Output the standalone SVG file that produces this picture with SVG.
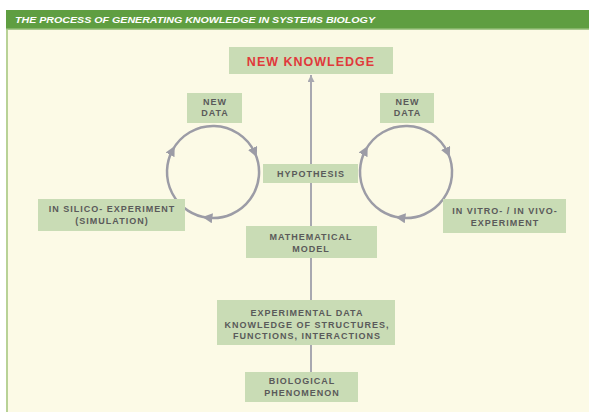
<svg xmlns="http://www.w3.org/2000/svg" width="589" height="412" viewBox="0 0 589 412">
<style>
.box{fill:#c9dcb5}
.t{font-family:"Liberation Sans",Arial,sans-serif;font-weight:bold;font-size:9px;letter-spacing:1px;fill:#5a5a5a;text-anchor:middle}
.nk{font-family:"Liberation Sans",Arial,sans-serif;font-weight:bold;font-size:12.5px;letter-spacing:1px;fill:#e0393b;text-anchor:middle}
.hdr{font-family:"Liberation Sans",Arial,sans-serif;font-weight:bold;font-style:italic;font-size:9.5px;fill:#ffffff}
.cyc{fill:none;stroke:#9c9ca6;stroke-width:2.5}
.vline{stroke:#a8a8b0;stroke-width:2;fill:none}
</style>
<defs>
<marker id="ah" viewBox="0 0 10 10" refX="5" refY="5" markerWidth="10" markerHeight="10" markerUnits="userSpaceOnUse" orient="auto">
<path d="M0,0 L10,5 L0,10 Z" fill="#9c9ca6"/>
</marker>
<marker id="ahv" viewBox="0 0 10 10" refX="10" refY="5" markerWidth="7" markerHeight="7" markerUnits="userSpaceOnUse" orient="auto">
<path d="M0,0 L10,5 L0,10 Z" fill="#a8a8b0"/>
</marker>
</defs>
<rect x="0" y="0" width="589" height="412" fill="#ffffff"/>
<rect x="6" y="29" width="583" height="383" fill="#fcfae6"/>
<rect x="6" y="29" width="2" height="383" fill="#b8d296"/>
<rect x="6" y="10" width="583" height="19" fill="#5f9e41"/>
<rect x="6" y="28.5" width="583" height="1.5" fill="#a9c98e"/>
<text class="hdr" x="15" y="23" textLength="360" lengthAdjust="spacingAndGlyphs">THE PROCESS OF GENERATING KNOWLEDGE IN SYSTEMS BIOLOGY</text>
<g id="connectors">
<path class="vline" d="M311,372 L311,75" marker-end="url(#ahv)"/>
<path class="cyc" d="M254.7,152.5 A46,46 0 0 1 207.4,217.7" marker-end="url(#ah)"/>
<path class="cyc" d="M207.4,217.7 A46,46 0 0 1 172.4,150.4" marker-end="url(#ah)"/>
<path class="cyc" d="M172.4,150.4 A46,46 0 0 1 254.7,152.5" marker-end="url(#ah)"/>
<path class="cyc" d="M447.7,152.5 A46,46 0 0 1 400.4,217.7" marker-end="url(#ah)"/>
<path class="cyc" d="M400.4,217.7 A46,46 0 0 1 365.4,150.4" marker-end="url(#ah)"/>
<path class="cyc" d="M365.4,150.4 A46,46 0 0 1 447.7,152.5" marker-end="url(#ah)"/>
</g>
<g id="new-knowledge">
<rect class="box" x="229" y="47" width="164" height="27"/>
<text class="nk" x="311" y="65.5">NEW KNOWLEDGE</text>
</g>
<g id="new-data-left">
<rect class="box" x="187" y="93" width="55" height="30"/>
<text class="t" x="215" y="105">NEW</text>
<text class="t" x="215" y="116">DATA</text>
</g>
<g id="new-data-right">
<rect class="box" x="380" y="93" width="54" height="30"/>
<text class="t" x="407.5" y="105">NEW</text>
<text class="t" x="407.5" y="116">DATA</text>
</g>
<g id="hypothesis">
<rect class="box" x="263" y="164" width="95" height="19"/>
<text class="t" x="311" y="177">HYPOTHESIS</text>
</g>
<g id="in-silico">
<rect class="box" x="38" y="199" width="147" height="32"/>
<text class="t" x="112" y="211.5">IN SILICO- EXPERIMENT</text>
<text class="t" x="112" y="224">(SIMULATION)</text>
</g>
<g id="in-vitro">
<rect class="box" x="443" y="199" width="123" height="34"/>
<text class="t" x="505" y="214">IN VITRO- / IN VIVO-</text>
<text class="t" x="505" y="226">EXPERIMENT</text>
</g>
<g id="mathematical-model">
<rect class="box" x="246" y="226" width="131" height="32"/>
<text class="t" x="311" y="240">MATHEMATICAL</text>
<text class="t" x="311" y="252">MODEL</text>
</g>
<g id="experimental-data">
<rect class="box" x="217" y="300" width="178" height="45"/>
<text class="t" x="307" y="316">EXPERIMENTAL DATA</text>
<text class="t" x="307" y="327.5">KNOWLEDGE OF STRUCTURES,</text>
<text class="t" x="307" y="339">FUNCTIONS, INTERACTIONS</text>
</g>
<g id="biological-phenomenon">
<rect class="box" x="245" y="372" width="113" height="30"/>
<text class="t" x="302" y="384">BIOLOGICAL</text>
<text class="t" x="302" y="396">PHENOMENON</text>
</g>
</svg>
